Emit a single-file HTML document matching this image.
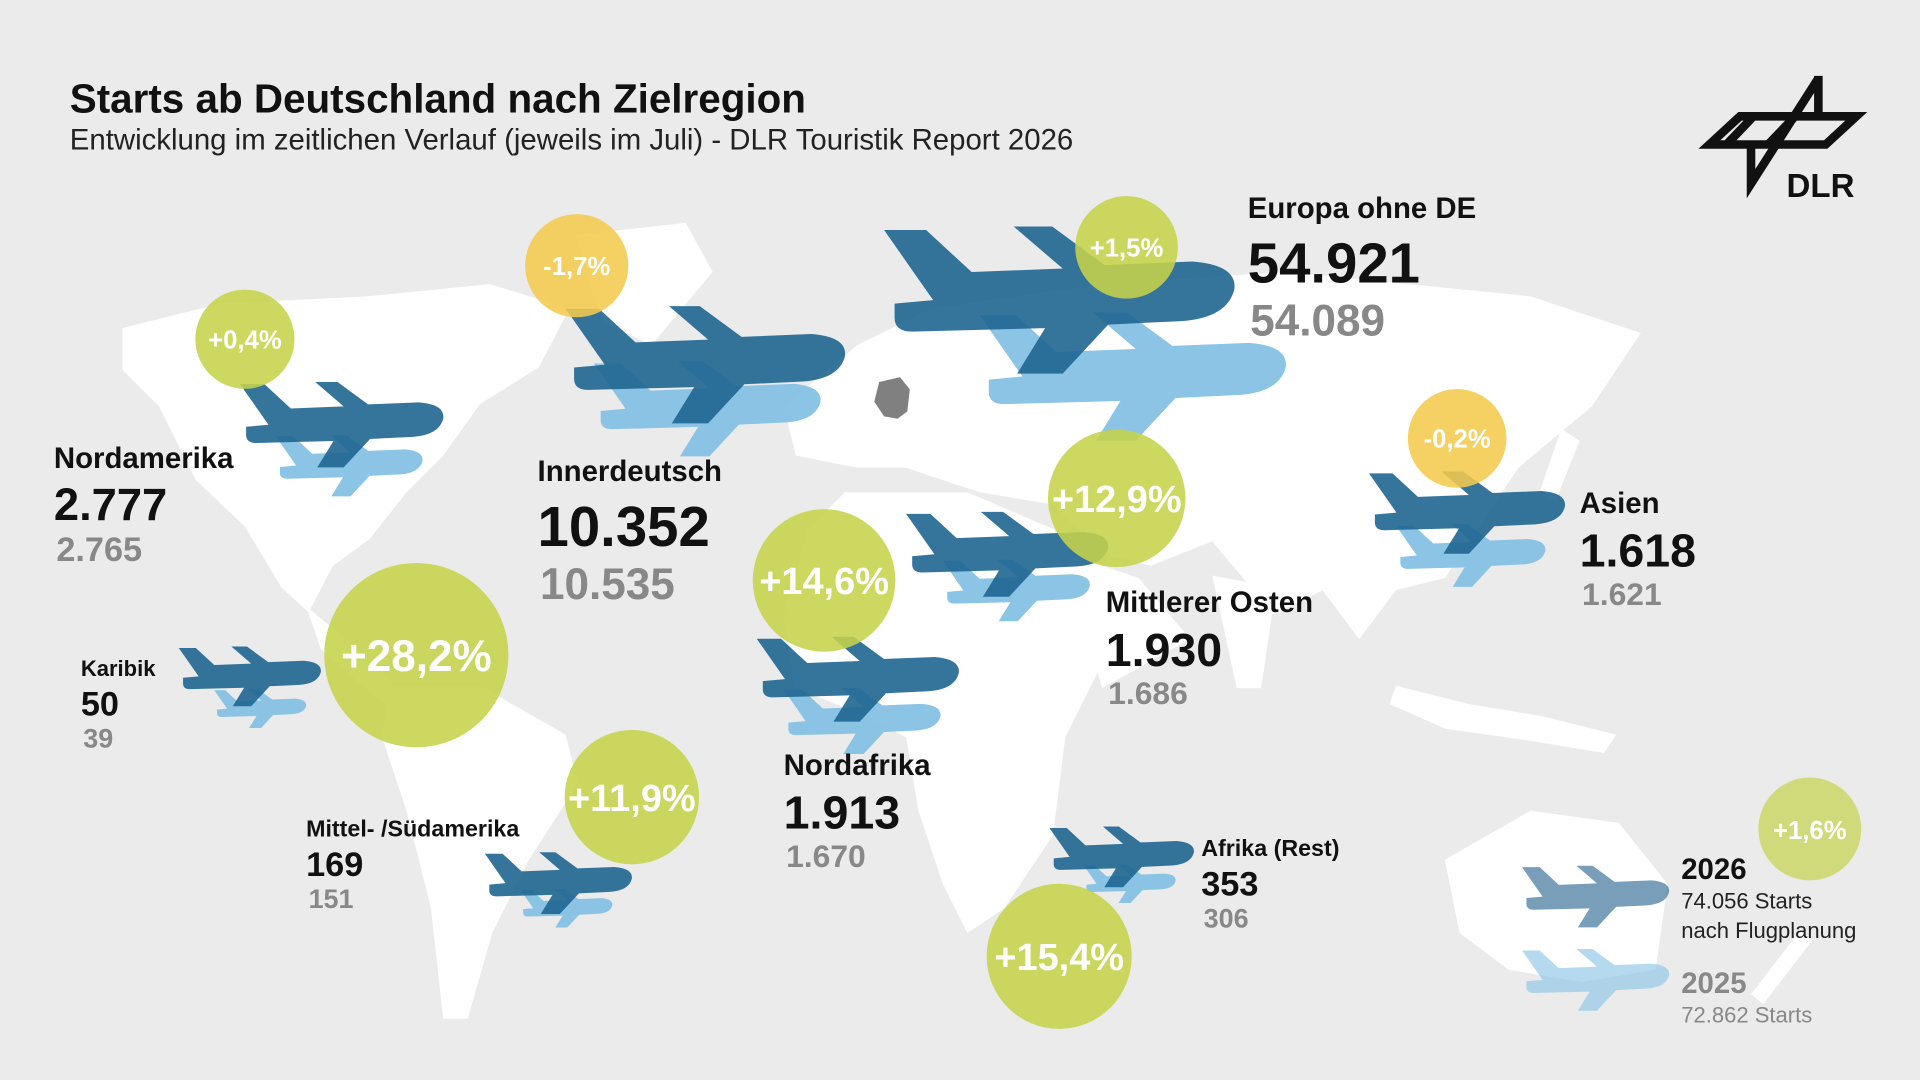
<!DOCTYPE html>
<html><head><meta charset="utf-8"><style>
html,body{margin:0;padding:0;background:#ebebeb;}
svg{display:block;font-family:"Liberation Sans",sans-serif;}
</style></head><body>
<svg id="chart" width="1920" height="1080" viewBox="0 0 1568 882" xmlns="http://www.w3.org/2000/svg">
<rect width="1568" height="882" fill="#ebebeb"/>
<g id="map" fill="#ffffff">
<path d="M100,268 L180,248 L300,242 L400,232 L465,252 L440,300 L392,330 L362,372 L332,402 L302,440 L272,462 L252,500 L230,480 L200,430 L160,392 L130,332 L100,302 Z"/>
<path d="M470,192 L560,182 L582,222 L532,282 L492,262 Z"/>
<path d="M250,495 L280,520 L310,545 L330,570 L318,578 L290,555 L262,530 Z"/>
<path d="M318,560 L392,560 L462,600 L472,640 L432,702 L402,762 L382,832 L362,832 L352,742 L332,662 L312,602 Z"/>
<path d="M640,332 L700,282 L760,252 L900,232 L1050,222 L1250,242 L1340,272 L1300,332 L1240,382 L1200,442 L1180,472 L1140,482 L1110,522 L1080,482 L1040,502 L990,442 L940,462 L900,452 L860,412 L800,402 L740,382 L700,382 L650,372 Z"/>
<path d="M690,402 L790,402 L860,432 L900,482 L900,542 L870,602 L860,682 L820,742 L790,762 L770,722 L750,662 L740,602 L700,582 L650,562 L640,502 L660,432 Z"/>
<path d="M870,452 L930,472 L972,522 L900,562 Z"/>
<path d="M990,470 L1042,480 L1030,562 L1010,562 Z"/>
<path d="M1275,350 L1290,360 L1270,410 L1258,400 Z"/>
<path d="M1140,560 L1200,575 L1260,585 L1320,600 L1310,615 L1250,605 L1180,595 L1135,575 Z"/>
<path d="M1180,702 L1250,662 L1322,672 L1362,722 L1352,792 L1292,802 L1232,792 L1192,762 Z"/>
<path d="M1470,760 L1480,768 L1440,820 L1430,812 Z"/>
</g>
<path fill="#808080" d="M718,312 L735,308 L743,318 L741,336 L733,342 L722,340 L714,328 Z"/>
<g id="planes"></g>
<g id="bubbles"></g>
<g id="labels"></g>
<text x="57" y="92" font-size="33" font-weight="bold" fill="#111">Starts ab Deutschland nach Zielregion</text>
<text x="57" y="122" font-size="24" fill="#222">Entwicklung im zeitlichen Verlauf (jeweils im Juli) - DLR Touristik Report 2026</text>
<g fill="none" stroke="#111" stroke-width="7" stroke-linejoin="miter">
<path d="M1396,118 L1421,95 L1516,95 L1491,118 Z M1432,95 L1410,118 M1466,95 L1444,118"/>
<path d="M1485,62 L1485,95 M1485,64 L1430,150 L1430,118"/>
</g>
<text x="1459" y="161" font-size="27" font-weight="bold" fill="#111">DLR</text>
<g id="legend"></g>
</svg>
<script>
const regions = ["Europa ohne DE","Innerdeutsch","Nordamerika","Asien","Mittlerer Osten","Karibik","Nordafrika","Mittel- /Südamerika","Afrika (Rest)"];
const starts2026 = [54921,10352,2777,1618,1930,50,1913,169,353];
const starts2025 = [54089,10535,2765,1621,1686,39,1670,151,306];
const changePct = [1.5,-1.7,0.4,-0.2,12.9,28.2,14.6,11.9,15.4];
const totals = [74056,72862];
const totalChangePct = 1.6;
const totalYears = ["2026","2025"];

// layout only (positions/sizes)
const L = [
 {p:[722,185,286],q:[800,255,250],c:[920,202],t:[1019,178,24,46,36]},
 {p:[462,250,228],q:[485,295,185],c:[471,217],t:[439,393,24,46,36]},
 {p:[196,312,166],q:[225,355,120],c:[200,277],t:[44,382,24,37,28]},
 {p:[1118,385,160],q:[1140,428,122],c:[1190,358],t:[1290,419,24,38,26]},
 {p:[740,418,165],q:[770,457,120],c:[912,407],t:[903,500,24,38,26]},
 {p:[146,528,116],q:[175,563,75],c:[340,535],t:[66,552,18,28,22]},
 {p:[618,520,165],q:[640,562,128],c:[673,474],t:[640,633,24,38,26]},
 {p:[396,696,120],q:[425,726,75],c:[516,651],t:[250,683,19,28,22]},
 {p:[857,675,118],q:[885,706,75],c:[865,781],t:[981,699,19,28,22]}
];
const NS="http://www.w3.org/2000/svg";
const PLANE="M0,1 L12,1 L25,13 L51,12 L37,0 L48,0 L63,11 L88,10 Q101,11 100,18 Q98,26 85,27 L64,28 L51,42 L38,42 L46,29 L8,30 Q3,30 3,26 L3,22 L14,21 Z";
function mk(tag,attrs,parent){const e=document.createElementNS(NS,tag);for(const k in attrs)e.setAttribute(k,attrs[k]);parent.appendChild(e);return e;}
function fmt(v){return v.toString().replace(/\B(?=(\d{3})+(?!\d))/g,".");}
function pctLabel(p){return (p>=0?"+":"-")+Math.abs(p).toFixed(1).replace(".",",")+"%";}
function radius(p){return 40+1.25*Math.abs(p);}
const gP=document.getElementById('planes'),gB=document.getElementById('bubbles'),gL=document.getElementById('labels'),gG=document.getElementById('legend');
function plane(parent,x,y,w,fill,op,name){
  const e=mk('path',{d:PLANE,fill:fill,'fill-opacity':op,transform:`translate(${x},${y}) scale(${w/100})`},parent);
  
  
}
regions.forEach((r,i)=>{
  const l=L[i];
  const slug=r.toLowerCase().replace(/[^a-z]+/g,'-');
  plane(gP,l.q[0],l.q[1],l.q[2],"#85c1e3",0.95,'plane-2025-'+slug);
  plane(gP,l.p[0],l.p[1],l.p[2],"#1f6691",0.9,'plane-2026-'+slug);
  const p=changePct[i];
  const rad=radius(p);
  const c=mk('circle',{cx:l.c[0],cy:l.c[1],r:rad,fill:p>=0?"#c6d34a":"#f4ca4c",'fill-opacity':0.88},gB);
  
  
  const fs=rad>70?36:(rad>52?31:21);
  const t=mk('text',{x:l.c[0],y:l.c[1]+fs*0.36,'font-size':fs,'font-weight':'bold',fill:'#fff','text-anchor':'middle'},gB);
  t.textContent=pctLabel(p);
  
  
  const [tx,ty,f1,f2,f3]=l.t;
  const a=mk('text',{x:tx,y:ty,'font-size':f1,'font-weight':'bold',fill:'#111'},gL);a.textContent=r;
  
  
  const b=mk('text',{x:tx,y:ty+f2*1.15,'font-size':f2,'font-weight':'bold',fill:'#111'},gL);b.textContent=fmt(starts2026[i]);
  
  
  const d=mk('text',{x:tx+2,y:ty+f2*1.15+f3*1.2,'font-size':f3,'font-weight':'bold',fill:'#888'},gL);d.textContent=fmt(starts2025[i]);
  
  
});
const tc=mk('circle',{cx:1478,cy:677,r:radius(totalChangePct),fill:"#c6d34a",'fill-opacity':0.7},gG);


const tt=mk('text',{x:1478,y:685,'font-size':21,'font-weight':'bold',fill:'#fff','text-anchor':'middle'},gG);tt.textContent=pctLabel(totalChangePct);


plane(gG,1243,707,120,"#2f6a95",0.65,'legend-plane-2026');
plane(gG,1243,775,120,"#8ec5e6",0.65,'legend-plane-2025');
const lg=[[1373,718,totalYears[0],24,'bold','#111','legend-year-2026'],[1373,742,fmt(totals[0])+" Starts",18,'normal','#222','legend-total-2026'],[1373,766,"nach Flugplanung",18,'normal','#222','legend-note-2026'],[1373,811,totalYears[1],24,'bold','#888','legend-year-2025'],[1373,835,fmt(totals[1])+" Starts",18,'normal','#888','legend-total-2025']];
lg.forEach(a=>{const e=mk('text',{x:a[0],y:a[1],'font-size':a[3],'font-weight':a[4],fill:a[5]},gG);e.textContent=a[2];
  
  });
</script>
</body></html>
